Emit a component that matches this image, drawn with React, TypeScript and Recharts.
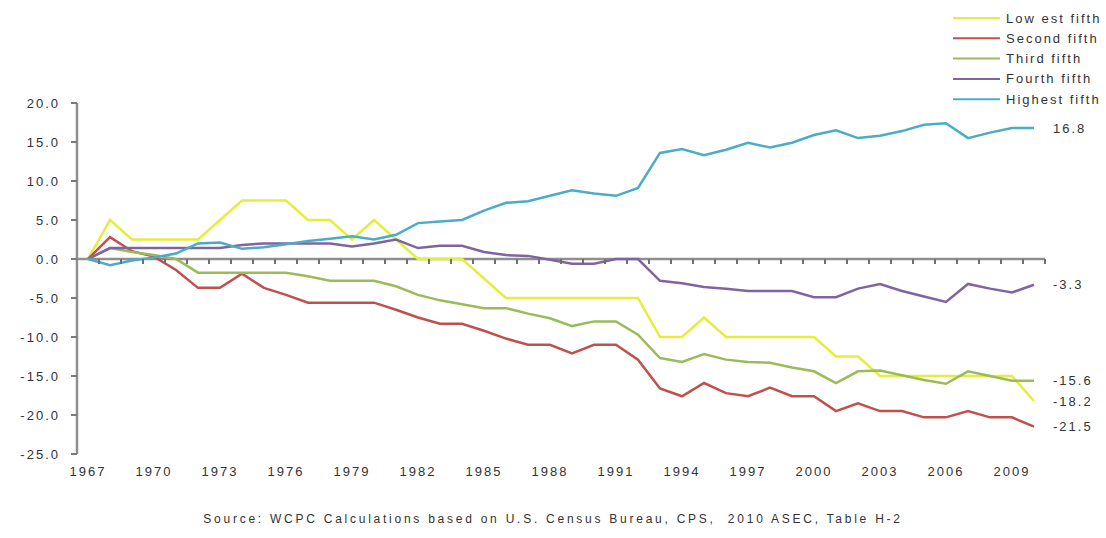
import { Legend, LabelList, Line, LineChart, ReferenceLine, XAxis, YAxis } from 'recharts';

const years = [
  1967, 1968, 1969, 1970, 1971, 1972, 1973, 1974, 1975, 1976, 1977, 1978, 1979, 1980, 1981,
  1982, 1983, 1984, 1985, 1986, 1987, 1988, 1989, 1990, 1991, 1992, 1993, 1994, 1995, 1996,
  1997, 1998, 1999, 2000, 2001, 2002, 2003, 2004, 2005, 2006, 2007, 2008, 2009, 2010,
];

const lowestFifth = [
  0, 5.0, 2.5, 2.5, 2.5, 2.5, 5.0, 7.5, 7.5, 7.5, 5.0, 5.0, 2.5, 5.0, 2.5, 0, 0, 0, -2.5, -5.0,
  -5.0, -5.0, -5.0, -5.0, -5.0, -5.0, -10.0, -10.0, -7.5, -10.0, -10.0, -10.0, -10.0, -10.0,
  -12.5, -12.5, -15.0, -15.0, -15.0, -15.0, -15.0, -15.0, -15.0, -18.2,
];
const secondFifth = [
  0, 2.8, 1.0, 0.3, -1.4, -3.7, -3.7, -1.9, -3.7, -4.6, -5.6, -5.6, -5.6, -5.6, -6.5, -7.5,
  -8.3, -8.3, -9.2, -10.2, -11.0, -11.0, -12.1, -11.0, -11.0, -12.9, -16.6, -17.6, -15.9,
  -17.2, -17.6, -16.5, -17.6, -17.6, -19.5, -18.5, -19.5, -19.5, -20.3, -20.3, -19.5, -20.3,
  -20.3, -21.5,
];
const thirdFifth = [
  0, 1.4, 0.9, 0.5, 0, -1.75, -1.75, -1.75, -1.75, -1.75, -2.2, -2.8, -2.8, -2.8, -3.5, -4.6,
  -5.3, -5.8, -6.3, -6.3, -7.0, -7.6, -8.6, -8.0, -8.0, -9.7, -12.7, -13.2, -12.2, -12.9, -13.2,
  -13.3, -13.9, -14.4, -15.9, -14.4, -14.3, -14.9, -15.5, -16.0, -14.4, -15.0, -15.6, -15.6,
];
const fourthFifth = [
  0, 1.4, 1.4, 1.4, 1.4, 1.4, 1.4, 1.8, 2.0, 2.0, 2.0, 2.0, 1.6, 2.0, 2.5, 1.4, 1.7, 1.7, 0.9,
  0.5, 0.4, -0.1, -0.6, -0.6, 0, 0, -2.8, -3.1, -3.6, -3.8, -4.1, -4.1, -4.1, -4.9, -4.9, -3.8,
  -3.2, -4.1, -4.8, -5.5, -3.2, -3.8, -4.3, -3.3,
];
const highestFifth = [
  0, -0.8, -0.2, 0.2, 0.7, 2.0, 2.1, 1.3, 1.5, 1.9, 2.3, 2.6, 2.9, 2.5, 3.1, 4.6, 4.8, 5.0, 6.2,
  7.2, 7.4, 8.1, 8.8, 8.4, 8.1, 9.1, 13.6, 14.1, 13.3, 14.0, 14.9, 14.3, 14.9, 15.9, 16.5, 15.5,
  15.8, 16.4, 17.2, 17.4, 15.5, 16.2, 16.8, 16.8,
];

const yTicks = [-25, -20, -15, -10, -5, 0, 5, 10, 15, 20];
const xLabelYears = [1967, 1970, 1973, 1976, 1979, 1982, 1985, 1988, 1991, 1994, 1997, 2000, 2003, 2006, 2009];

const data = years.map((year, i) => ({
  year,
  lowest: lowestFifth[i],
  second: secondFifth[i],
  third: thirdFifth[i],
  fourth: fourthFifth[i],
  highest: highestFifth[i],
}));

// category boundaries on the zero line (Excel puts the ticks between the years)
const tickMarks = years.map((year) => ({ year: year + 0.5, zero: 0 }));

const FONT = '"Liberation Sans", Arial, sans-serif';
const TEXT = '#333333';
const AXIS = '#8f8f8f';

const series = [
  { key: 'lowest', name: 'Low est fifth', color: '#e6ee3c' },
  { key: 'second', name: 'Second fifth', color: '#c0504d' },
  { key: 'third', name: 'Third fifth', color: '#9bbb59' },
  { key: 'fourth', name: 'Fourth fifth', color: '#8064a2' },
  { key: 'highest', name: 'Highest fifth', color: '#4bacc6' },
];

const lastIndex = years.length - 1;

function EndLabel(props: any) {
  const { x, y, value, index } = props;
  if (index !== lastIndex) return null;
  return (
    <text
      x={x + 19}
      y={y}
      dy="0.35em"
      fill={TEXT}
      fontSize={13}
      fontFamily={FONT}
      letterSpacing={2}
    >
      {value}
    </text>
  );
}

function TickMark(props: any) {
  const { cx, cy, index } = props;
  if (cx == null || cy == null) return <g key={index} />;
  return (
    <rect key={index} x={cx - 1} y={cy} width={2} height={5} fill="#6f6f6f" />
  );
}

// legend keeps the series order (recharts would sort it by name)
function renderLegend() {
  return (
    <svg width={156} height={110}>
      {series.map((s, i) => {
        const cy = 13 + i * 20.3;
        return (
          <g key={s.key}>
            <line x1={3} x2={50} y1={cy} y2={cy} stroke={s.color} strokeWidth={2} />
            <text
              x={56}
              y={cy}
              dy="0.35em"
              fill={TEXT}
              fontSize={13}
              fontFamily={FONT}
              letterSpacing={2}
            >
              {s.name}
            </text>
          </g>
        );
      })}
    </svg>
  );
}

export default function App() {
  return (
    <div
      style={{
        position: 'absolute',
        left: 0,
        top: 0,
        width: 1106,
        height: 538,
        background: '#fff',
        fontFamily: FONT,
      }}
    >
      <LineChart
        width={1106}
        height={538}
        data={data}
        margin={{ top: 103, right: 61, bottom: 64, left: 0 }}
      >
        <ReferenceLine y={0} stroke={AXIS} strokeWidth={2.5} />

        <XAxis
          dataKey="year"
          type="number"
          domain={[1966.5, 2010.5]}
          ticks={xLabelYears}
          interval={0}
          axisLine={false}
          tickLine={false}
          tickSize={6}
          tickMargin={7}
          height={20}
          tick={{ fill: TEXT, fontSize: 13, fontFamily: FONT, letterSpacing: 2 }}
        />

        <YAxis
          domain={[-25, 20]}
          ticks={yTicks}
          width={77}
          interval={0}
          stroke={AXIS}
          axisLine={{ stroke: AXIS, strokeWidth: 2.5 }}
          tickLine={{ stroke: '#7a7a7a', strokeWidth: 2 }}
          tickSize={6}
          tickMargin={11}
          tickFormatter={(v: number) => v.toFixed(1)}
          tick={{ fill: TEXT, fontSize: 13, fontFamily: FONT, letterSpacing: 2 }}
        />

        <Legend
          layout="vertical"
          align="center"
          verticalAlign="middle"
          content={renderLegend}
          wrapperStyle={{ position: 'absolute', left: 950, top: 5, width: 156, height: 110 }}
        />

        <Line
          data={tickMarks}
          dataKey="zero"
          name="axis ticks"
          stroke="none"
          dot={TickMark}
          activeDot={false}
          legendType="none"
          isAnimationActive={false}
        />

        {series.map((s) => (
          <Line
            key={s.key}
            dataKey={s.key}
            name={s.name}
            stroke={s.color}
            strokeWidth={2.5}
            dot={false}
            activeDot={false}
            isAnimationActive={false}
          >
            <LabelList dataKey={s.key} content={EndLabel} />
          </Line>
        ))}
      </LineChart>

      <div
        style={{
          position: 'absolute',
          left: 0,
          width: 1106,
          top: 512,
          textAlign: 'center',
          fontSize: 12,
          letterSpacing: 2.75,
          color: TEXT,
          fontFamily: FONT,
          whiteSpace: 'pre',
        }}
      >
        Source: WCPC Calculations based on U.S. Census Bureau, CPS,  2010 ASEC, Table H-2
      </div>
    </div>
  );
}
